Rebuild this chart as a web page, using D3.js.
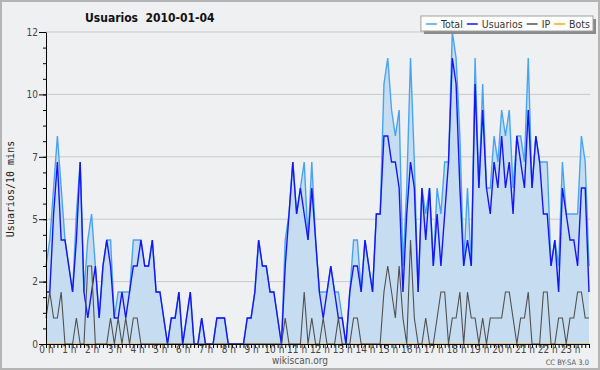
<!DOCTYPE html>
<html>
<head>
<meta charset="utf-8">
<script src="https://cdnjs.cloudflare.com/ajax/libs/d3/7.8.5/d3.min.js"></script>
<style>
    body { margin: 0; background: #fff; }
    svg { display: block; }
</style>
</head>
<body>
<div id="chart"></div>
<script>
// Values per 10 minutes, 2010-01-04 (144 slots)
const total = [
    3, 4, 6, 8, 6, 4, 3, 2, 5, 7,   2, 4, 5, 3, 1, 3, 4, 4, 1, 2,
    2, 2, 2, 4, 4, 4, 3, 3, 4, 2,   2, 1, 0, 1, 1, 2, 0, 1, 2, 0,
    0, 1, 0, 0, 0, 1, 1, 1, 0, 0,   0, 0, 0, 1, 1, 2, 4, 3, 3, 2,
    2, 1, 0, 4, 5, 7, 5, 6, 7, 4,   7, 4, 2, 2, 2, 3, 2, 2, 1, 0,
    2, 4, 4, 2, 4, 3, 2, 5, 5, 10,  11, 9, 8, 9, 3, 6, 11, 7, 2, 6,
    5, 6, 3, 6, 5, 7, 7, 12, 11, 8, 3, 6, 3, 11, 6, 10, 6, 6, 8, 7,
    9, 8, 9, 6, 8, 8, 7, 11, 6, 8,  7, 7, 7, 3, 4, 3, 7, 5, 5, 5,
    5, 8, 7, 3
];
const usuarios = [
    2, 2, 5, 7, 4, 4, 3, 2, 4, 7,   2, 1, 2, 3, 1, 3, 4, 3, 1, 1,
    2, 1, 2, 3, 3, 4, 3, 3, 4, 2,   2, 1, 0, 1, 1, 2, 0, 1, 2, 0,
    0, 1, 0, 0, 0, 1, 1, 1, 0, 0,   0, 0, 0, 1, 1, 2, 4, 3, 3, 2,
    2, 1, 0, 3, 5, 7, 5, 6, 5, 4,   6, 4, 2, 1, 2, 3, 2, 1, 1, 0,
    2, 3, 3, 2, 4, 3, 2, 5, 5, 8,   8, 7, 7, 6, 2, 5, 7, 6, 2, 6,
    4, 6, 3, 5, 3, 5, 7, 11, 10, 6, 3, 4, 3, 10, 6, 9, 6, 5, 7, 6,
    8, 6, 7, 5, 8, 7, 6, 9, 6, 8,   7, 5, 5, 3, 4, 2, 6, 5, 4, 4,
    3, 6, 6, 2
];
const ip = [
    1, 2, 1, 1, 2, 0, 0, 0, 1, 0,   0, 3, 3, 0, 0, 0, 0, 1, 0, 1,
    0, 1, 0, 1, 1, 0, 0, 0, 0, 0,   0, 0, 0, 0, 0, 0, 0, 0, 0, 0,
    0, 0, 0, 0, 0, 0, 0, 0, 0, 0,   0, 0, 0, 0, 0, 0, 0, 0, 0, 0,
    0, 0, 0, 1, 0, 0, 0, 0, 2, 0,   1, 0, 0, 1, 0, 0, 0, 1, 0, 0,
    0, 1, 1, 0, 0, 0, 0, 0, 0, 2,   3, 2, 1, 3, 1, 0, 4, 1, 0, 0,
    1, 0, 0, 1, 2, 2, 0, 1, 1, 2,   0, 2, 1, 1, 0, 1, 0, 1, 1, 1,
    1, 2, 2, 1, 0, 1, 1, 2, 0, 0,   0, 2, 2, 0, 0, 1, 1, 0, 1, 1,
    2, 2, 1, 1
];
const bots = [
    0, 0, 0, 0, 0, 0, 0, 0, 0, 0,   0, 0, 0, 0, 0, 0, 0, 0, 0, 0,
    0, 0, 0, 0, 0, 0, 0, 0, 0, 0,   0, 0, 0, 0, 0, 0, 0, 0, 0, 0,
    0, 0, 0, 0, 0, 0, 0, 0, 0, 0,   0, 0, 0, 0, 0, 0, 0, 0, 0, 0,
    0, 0, 0, 0, 0, 0, 0, 0, 0, 0,   0, 0, 0, 0, 0, 0, 0, 0, 0, 0,
    0, 0, 0, 0, 0, 0, 0, 0, 0, 0,   0, 0, 0, 0, 0, 0, 0, 0, 0, 0,
    0, 0, 0, 0, 0, 0, 0, 0, 0, 0,   0, 0, 0, 0, 0, 0, 0, 0, 0, 0,
    0, 0, 0, 0, 0, 0, 0, 0, 0, 0,   0, 0, 0, 0, 0, 0, 0, 0, 0, 0,
    0, 0, 0, 0
];
const hourLabels = [
    '0 h', '1 h', '2 h', '3 h', '4 h', '5 h', '6 h', '7 h', '8 h', '9 h', '10 h', '11 h',
    '12 h', '13 h', '14 h', '15 h', '16 h', '17 h', '18 h', '19 h', '20 h', '21 h', '22 h', '23 h'
];
const yTicks = [0, 2.4, 4.8, 7.2, 9.6, 12];
const legendItems = [
    { name: 'Total', color: '#48a4f2' },
    { name: 'Usuarios', color: '#1515f5' },
    { name: 'IP', color: '#505050' },
    { name: 'Bots', color: '#ffa31a' }
];

const width = 600;
const height = 370;
const plot = { left: 46, right: 589, top: 32, bottom: 344 };
const font = "'DejaVu Sans Condensed', 'Liberation Sans Narrow', 'DejaVu Sans', sans-serif";

const svg = d3.select('#chart')
    .append('svg')
    .attr('width', width)
    .attr('height', height)
    .style('font-family', font);

// Background and frame
svg.append('rect')
    .attr('x', 1)
    .attr('y', 1)
    .attr('width', width - 2)
    .attr('height', height - 2)
    .attr('fill', '#eff0f2')
    .attr('stroke', '#b4b4b4')
    .attr('stroke-width', 2);

const x = d3.scaleLinear().domain([0, total.length - 1]).range([plot.left, plot.right]);
const y = d3.scaleLinear().domain([0, 12]).range([plot.bottom, plot.top]);

// Grid lines
svg.append('g')
    .selectAll('line')
    .data(yTicks.slice(1))
    .enter()
    .append('line')
    .attr('x1', plot.left)
    .attr('x2', plot.right + 1)
    .attr('y1', d => y(d))
    .attr('y2', d => y(d))
    .attr('stroke', '#c9c9c9')
    .attr('stroke-width', 1);

// Total area
svg.append('path')
    .datum(total)
    .attr('d', d3.area().x((d, i) => x(i)).y0(y(0)).y1(d => y(d)))
    .attr('fill', '#c6ddf1');

const line = d3.line().x((d, i) => x(i)).y(d => y(d));
const series = [
    { values: bots, color: '#ffa31a', w: 1.2 },
    { values: total, color: '#48a4f2', w: 1.4 },
    { values: usuarios, color: '#1515f5', w: 1.4 },
    { values: ip, color: '#505050', w: 1.1 }
];
series.forEach(s => {
    svg.append('path')
        .datum(s.values)
        .attr('d', line)
        .attr('fill', 'none')
        .attr('stroke', s.color)
        .attr('stroke-width', s.w)
        .attr('stroke-linejoin', 'miter');
});

// Y axis
const yAxis = svg.append('g')
    .attr('transform', `translate(${plot.left},0)`)
    .call(d3.axisLeft(y).tickValues(yTicks).tickSize(7).tickSizeOuter(0).tickPadding(1)
        .tickFormat(d => Math.round(d)));
yAxis.selectAll('text').attr('font-size', 10).attr('fill', '#444').style('font-family', font);
yAxis.select('.domain').attr('stroke', '#000');

svg.append('g')
    .attr('transform', `translate(${plot.left},0)`)
    .call(d3.axisLeft(y).tickValues(d3.range(0, 12.01, 0.6)).tickSize(3).tickSizeOuter(0).tickFormat(''))
    .select('.domain').remove();

// X axis
const xAxis = svg.append('g')
    .attr('transform', `translate(0,${plot.bottom})`)
    .call(d3.axisBottom(x).tickValues(d3.range(0, total.length)).tickSize(4).tickSizeOuter(0).tickFormat(''));
xAxis.select('.domain').attr('stroke', '#000').attr('d', `M${plot.left},0.5H${plot.right + 1}`);

const xLabels = svg.append('g')
    .attr('transform', `translate(0,${plot.bottom})`)
    .call(d3.axisBottom(x).tickValues(hourLabels.map((d, i) => i * 6)).tickSize(0).tickPadding(2)
        .tickFormat((d, i) => hourLabels[i]));
xLabels.select('.domain').remove();
xLabels.selectAll('text').attr('font-size', 10).attr('fill', '#444').style('font-family', font);

// Y label
svg.append('text')
    .attr('transform', 'translate(14,189) rotate(-90)')
    .attr('text-anchor', 'middle')
    .attr('font-size', 10)
    .attr('fill', '#222')
    .style('font-family', "'DejaVu Sans Mono', monospace")
    .text('Usuarios/10 mins');

// Title
svg.append('text')
    .attr('x', 85)
    .attr('y', 22)
    .attr('font-size', 12)
    .attr('font-weight', 'bold')
    .attr('fill', '#111')
    .style('white-space', 'pre')
    .text('Usuarios  2010-01-04');

// Footer texts
svg.append('text')
    .attr('x', 300)
    .attr('y', 364)
    .attr('text-anchor', 'middle')
    .attr('font-size', 10)
    .attr('fill', '#555')
    .text('wikiscan.org');

svg.append('text')
    .attr('x', 589)
    .attr('y', 365)
    .attr('text-anchor', 'end')
    .attr('font-size', 7.5)
    .attr('fill', '#555')
    .text('CC BY-SA 3.0');

// Legend
const legend = svg.append('g');
const shadow = legend.append('rect').attr('fill', '#8a8a8a');
const box = legend.append('rect').attr('fill', '#fff').attr('stroke', '#a0a0a0');
let cursor = 0;
const items = legend.append('g');
legendItems.forEach(item => {
    items.append('line')
        .attr('x1', cursor)
        .attr('x2', cursor + 11)
        .attr('y1', 0)
        .attr('y2', 0)
        .attr('stroke', item.color)
        .attr('stroke-width', 1.5);
    const t = items.append('text')
        .attr('x', cursor + 15)
        .attr('y', 4)
        .attr('font-size', 10.5)
        .attr('fill', '#333')
        .text(item.name);
    cursor += 15 + t.node().getComputedTextLength() + 4;
});
const boxW = cursor + 4;
const boxX = 593 - boxW;
box.attr('x', boxX).attr('y', 16).attr('width', boxW).attr('height', 15);
shadow.attr('x', boxX + 3).attr('y', 19).attr('width', boxW).attr('height', 15);
items.attr('transform', `translate(${boxX + 5},24)`);
</script>
</body>
</html>
